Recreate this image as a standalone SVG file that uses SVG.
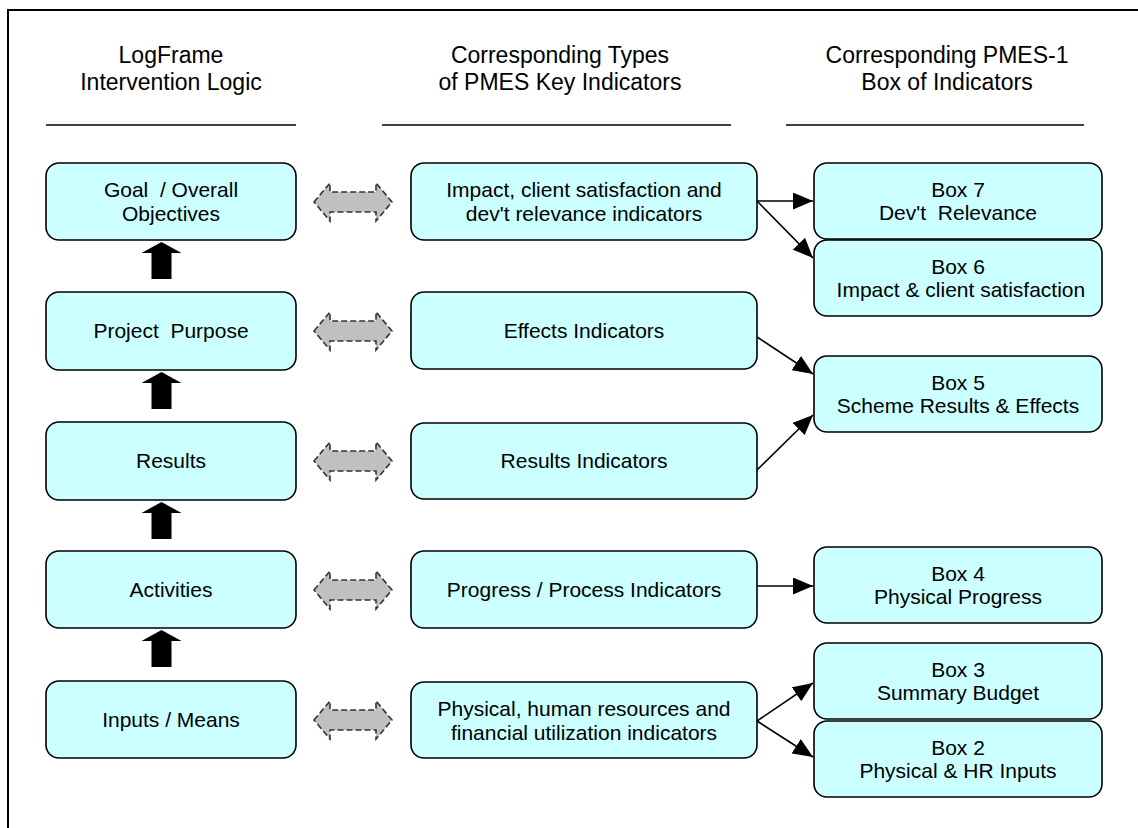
<svg xmlns="http://www.w3.org/2000/svg" width="1138" height="828" viewBox="0 0 1138 828">
  <style>
    .box { fill: #ccffff; stroke: #000; stroke-width: 1.6; }
    .txt { font-family: "Liberation Sans", Arial, sans-serif; font-size: 21px; fill: #000; text-anchor: middle; }
    .hdr { font-family: "Liberation Sans", Arial, sans-serif; font-size: 23px; fill: #000; text-anchor: middle; }
    .rule { stroke: #000; stroke-width: 1.5; }
    .link { stroke: #000; stroke-width: 1.6; fill: none; marker-end: url(#tri); }
    .dbl { fill: #c0c0c0; stroke: #333; stroke-width: 1.6; stroke-dasharray: 6 3; }
    .up { fill: #000; }
  </style>
  <defs>
    <marker id="tri" viewBox="0 0 20 17" refX="20" refY="8.5" markerWidth="20" markerHeight="17" markerUnits="userSpaceOnUse" orient="auto">
      <path d="M0,0 L20,8.5 L0,17 Z" fill="#000"/>
    </marker>
    <!-- dashed grey two-way arrow, centred on its own origin -->
    <polygon id="twoway" class="dbl" points="-39,0 -23,-19 -23,-10 23,-10 23,-19 39,0 23,19 23,10 -23,10 -23,19"/>
    <!-- thick black upward arrow, tip at origin -->
    <polygon id="uparrow" class="up" points="0,0 20,11 10,11 10,37 -10,37 -10,11 -20,11"/>
  </defs>

  <rect width="1138" height="828" fill="#fff"/>
  <!-- frame -->
  <rect x="8" y="10" width="1200" height="900" fill="none" stroke="#000" stroke-width="2"/>

  <!-- column headings -->
  <g id="headings">
    <text class="hdr" x="171" y="63">LogFrame</text>
    <text class="hdr" x="171" y="90">Intervention Logic</text>
    <text class="hdr" x="560" y="63">Corresponding Types</text>
    <text class="hdr" x="560" y="90">of PMES Key Indicators</text>
    <text class="hdr" x="947" y="63">Corresponding PMES-1</text>
    <text class="hdr" x="947" y="90">Box of Indicators</text>
    <line class="rule" x1="46" y1="125" x2="296" y2="125"/>
    <line class="rule" x1="382" y1="125" x2="731" y2="125"/>
    <line class="rule" x1="786" y1="125" x2="1084" y2="125"/>
  </g>

  <!-- LogFrame column -->
  <g id="goal">
    <rect class="box" x="46" y="163" width="250" height="77" rx="13"/>
    <text class="txt" x="171" y="197" xml:space="preserve">Goal  / Overall</text>
    <text class="txt" x="171" y="221">Objectives</text>
  </g>
  <g id="purpose">
    <rect class="box" x="46" y="292" width="250" height="78" rx="13"/>
    <text class="txt" x="171" y="338" xml:space="preserve">Project  Purpose</text>
  </g>
  <g id="results">
    <rect class="box" x="46" y="422" width="250" height="78" rx="13"/>
    <text class="txt" x="171" y="468">Results</text>
  </g>
  <g id="activities">
    <rect class="box" x="46" y="551" width="250" height="77" rx="13"/>
    <text class="txt" x="171" y="597">Activities</text>
  </g>
  <g id="inputs">
    <rect class="box" x="46" y="681" width="250" height="77" rx="13"/>
    <text class="txt" x="171" y="727">Inputs / Means</text>
  </g>

  <!-- key indicator column -->
  <g id="impact-ind">
    <rect class="box" x="411" y="163" width="346" height="77" rx="13"/>
    <text class="txt" x="584" y="197">Impact, client satisfaction and</text>
    <text class="txt" x="584" y="221">dev't relevance indicators</text>
  </g>
  <g id="effects-ind">
    <rect class="box" x="411" y="292" width="346" height="77" rx="13"/>
    <text class="txt" x="584" y="338">Effects Indicators</text>
  </g>
  <g id="results-ind">
    <rect class="box" x="411" y="423" width="346" height="76" rx="13"/>
    <text class="txt" x="584" y="468">Results Indicators</text>
  </g>
  <g id="progress-ind">
    <rect class="box" x="411" y="551" width="346" height="77" rx="13"/>
    <text class="txt" x="584" y="597">Progress / Process Indicators</text>
  </g>
  <g id="physical-ind">
    <rect class="box" x="411" y="682" width="346" height="76" rx="13"/>
    <text class="txt" x="584" y="716">Physical, human resources and</text>
    <text class="txt" x="584" y="740">financial utilization indicators</text>
  </g>

  <!-- PMES-1 box column -->
  <g id="box7">
    <rect class="box" x="814" y="163" width="288" height="76" rx="13"/>
    <text class="txt" x="958" y="197">Box 7</text>
    <text class="txt" x="958" y="220" xml:space="preserve">Dev't  Relevance</text>
  </g>
  <g id="box6">
    <rect class="box" x="814" y="240" width="288" height="76" rx="13"/>
    <text class="txt" x="958" y="274">Box 6</text>
    <text class="txt" x="958" y="297" xml:space="preserve"> Impact &amp; client satisfaction</text>
  </g>
  <g id="box5">
    <rect class="box" x="814" y="356" width="288" height="76" rx="13"/>
    <text class="txt" x="958" y="390">Box 5</text>
    <text class="txt" x="958" y="413">Scheme Results &amp; Effects</text>
  </g>
  <g id="box4">
    <rect class="box" x="814" y="547" width="288" height="76" rx="13"/>
    <text class="txt" x="958" y="581">Box 4</text>
    <text class="txt" x="958" y="604">Physical Progress</text>
  </g>
  <g id="box3">
    <rect class="box" x="814" y="643" width="288" height="76" rx="13"/>
    <text class="txt" x="958" y="677">Box 3</text>
    <text class="txt" x="958" y="700">Summary Budget</text>
  </g>
  <g id="box2">
    <rect class="box" x="814" y="721" width="288" height="76" rx="13"/>
    <text class="txt" x="958" y="755">Box 2</text>
    <text class="txt" x="958" y="778">Physical &amp; HR Inputs</text>
  </g>

  <!-- connectors -->
  <g id="connectors">
    <!-- upward logic arrows -->
    <use href="#uparrow" x="161.5" y="242"/>
    <use href="#uparrow" x="161.5" y="372"/>
    <use href="#uparrow" x="161.5" y="502"/>
    <use href="#uparrow" x="161.5" y="630"/>
    <!-- two-way correspondences -->
    <use href="#twoway" x="353" y="202"/>
    <use href="#twoway" x="353" y="331"/>
    <use href="#twoway" x="353" y="461"/>
    <use href="#twoway" x="353" y="590"/>
    <use href="#twoway" x="353" y="720"/>
    <!-- indicator to box links -->
    <line class="link" x1="757" y1="201" x2="813" y2="201"/>
    <line class="link" x1="757" y1="201" x2="813" y2="258"/>
    <line class="link" x1="757" y1="337" x2="813" y2="374"/>
    <line class="link" x1="757" y1="470" x2="813" y2="415"/>
    <line class="link" x1="757" y1="586" x2="813" y2="586"/>
    <line class="link" x1="757" y1="721" x2="813" y2="683"/>
    <line class="link" x1="757" y1="721" x2="813" y2="757"/>
  </g>
</svg>
